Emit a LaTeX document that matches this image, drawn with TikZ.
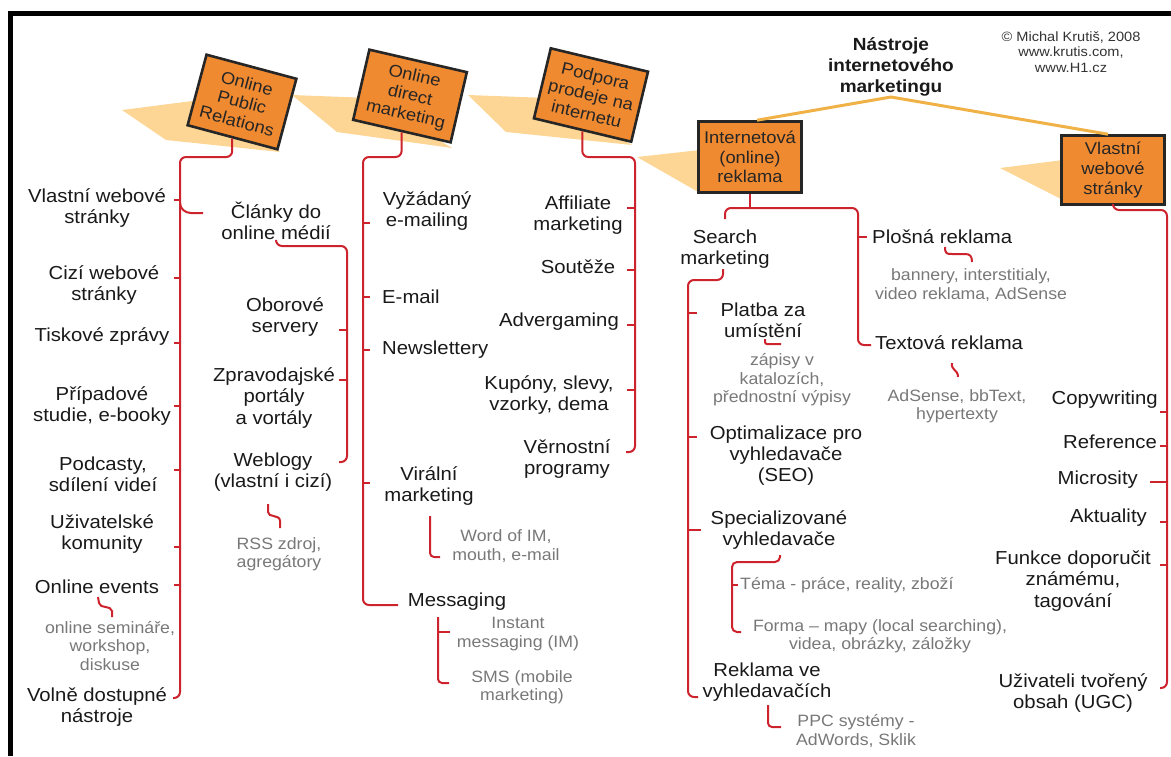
\documentclass[tikz,border=0pt]{standalone}
\usepackage{fontspec}
\setmainfont{Liberation Sans}[FakeStretch=1.08]
\usetikzlibrary{calc}
\definecolor{boxor}{RGB}{240,138,48}
\definecolor{beamc}{RGB}{253,214,150}
\definecolor{goldl}{RGB}{240,178,70}
\definecolor{redl}{RGB}{205,35,45}
\definecolor{graytxt}{RGB}{120,120,120}
\definecolor{maintxt}{RGB}{25,25,25}
\begin{document}
\begin{tikzpicture}[x=1pt,y=-1pt,
  obox/.style={draw=black!85, line width=2.6, fill=boxor, align=center, inner sep=0,
    font=\fontsize{17}{19.6}\selectfont, text=black!85},
  lbl/.style={align=center, inner sep=0, font=\fontsize{18.8}{21.1}\selectfont, text=maintxt},
  sub/.style={align=center, inner sep=0, font=\fontsize{16.4}{18.4}\selectfont, text=graytxt},
  rl/.style={draw=redl, line width=2, rounded corners=6},
  sq/.style={draw=redl, line width=2},
  beam/.style={fill=beamc, draw=none},
  goldline/.style={draw=goldl, line width=3},
  ]
\useasboundingbox (0,0) rectangle (1171,756);
% frame
\draw[line width=4.5] (1171,13.5) -- (10.5,13.5) -- (10.5,756);

% beams
\fill[beam] (122,110) -- (200,100) -- (280,152) -- (166,140) -- cycle;
\fill[beam] (292,95) -- (370,98) -- (452,148) -- (337,132) -- cycle;
\fill[beam] (468,95) -- (548,98) -- (632,145) -- (506,132) -- cycle;
\fill[beam] (637,157) -- (700,150) -- (700,193) -- cycle;
\fill[beam] (1000,168) -- (1063,160) -- (1063,200) -- cycle;

% title and credits
\node[font=\bfseries\fontsize{17.6}{20.6}\selectfont, align=center, inner sep=0, text=maintxt] (title) at (891,67) {Nástroje\\internetového\\marketingu};
\coordinate (apex) at (891,97);
\node[font=\fontsize{13.5}{15.2}\selectfont, align=center, inner sep=0, text=black!80] (copy) at (1071,52) {© Michal Krutiš, 2008\\www.krutis.com,\\www.H1.cz};

% boxes
\node[obox, rotate=-15, minimum width=93, minimum height=73] (b1) at (242,102) {Online\\Public\\Relations};
\node[obox, rotate=-13, minimum width=100, minimum height=72] (b2) at (410,96) {Online\\direct\\marketing};
\node[obox, rotate=-13.5, minimum width=100, minimum height=72] (b3) at (591,95) {Podpora\\prodeje na\\internetu};
\node[obox, minimum width=103, minimum height=71] (b4) at (750,157) {Internetová\\(online)\\reklama};
\node[obox, minimum width=103, minimum height=69] (b5) at (1113,170) {Vlastní\\webové\\stránky};

\draw[goldline] ($(b4.north)+(7,0)$) -- (apex) -- ($(b5.north)+(-5,0)$);

% ---------- column 1 texts
\node[lbl] (c1a) at (97,208) {Vlastní webové\\stránky};
\node[lbl] (c1b) at (104,285) {Cizí webové\\stránky};
\node[lbl] (c1c) at (102,337) {Tiskové zprávy};
\node[lbl] (c1d) at (102,406) {Případové\\studie, e-booky};
\node[lbl] (c1e) at (103,474) {Podcasty,\\sdílení videí};
\node[lbl] (c1f) at (102,534) {Uživatelské\\komunity};
\node[lbl] (c1g) at (97,587) {Online events};
\node[sub] (c1g1) at (110,646) {online semináře,\\workshop,\\diskuse};
\node[lbl] (c1h) at (97,707) {Volně dostupné\\nástroje};
\node[lbl] (c1i) at (276,221) {Články do\\online médií};
\node[lbl] (c1j) at (285,317) {Oborové\\servery};
\node[lbl] (c1k) at (274,398) {Zpravodajské\\portály\\a vortály};
\node[lbl] (c1l) at (273,472) {Weblogy\\(vlastní i cizí)};
\node[sub] (c1l1) at (279,554) {RSS zdroj,\\agregátory};

% ---------- column 2 texts
\node[lbl] (c2a) at (427,211) {Vyžádaný\\e-mailing};
\node[lbl, anchor=west] (c2b) at (382,297) {E-mail};
\node[lbl, anchor=west] (c2c) at (382,350) {Newslettery};
\node[lbl] (c2d) at (429,486) {Virální\\marketing};
\node[sub] (c2d1) at (506,546) {Word of IM,\\mouth, e-mail};
\node[lbl] (c2e) at (457,602) {Messaging};
\node[sub] (c2e1) at (518,634) {Instant\\messaging (IM)};
\node[sub] (c2e2) at (522,687) {SMS (mobile\\marketing)};

% ---------- column 3 texts
\node[lbl] (c3a) at (578,215) {Affiliate\\marketing};
\node[lbl] (c3b) at (578,267) {Soutěže};
\node[lbl] (c3c) at (559,322) {Advergaming};
\node[lbl] (c3d) at (549,395) {Kupóny, slevy,\\vzorky, dema};
\node[lbl] (c3e) at (567,459) {Věrnostní\\programy};

% ---------- column 4 texts
\node[lbl] (c4a) at (725,249) {Search\\marketing};
\node[lbl, anchor=west] (c4b) at (872,237) {Plošná reklama};
\node[sub] (c4b1) at (971,285) {bannery, interstitialy,\\video reklama, AdSense};
\node[lbl, anchor=west] (c4c) at (875,343) {Textová reklama};
\node[sub] (c4c1) at (957,406) {AdSense, bbText,\\hypertexty};
\node[lbl] (c4d) at (763,320) {Platba za\\umístění};
\node[sub] (c4d1) at (782,380) {zápisy v\\katalozích,\\přednostní výpisy};
\node[lbl] (c4e) at (786,456) {Optimalizace pro\\vyhledavače\\(SEO)};
\node[lbl] (c4f) at (779,530) {Specializované\\vyhledavače};
\node[sub, anchor=west] (c4f1) at (740,585) {Téma - práce, reality, zboží};
\node[sub] (c4f2) at (880,636) {Forma – mapy (local searching),\\videa, obrázky, záložky};
\node[lbl] (c4g) at (767,682) {Reklama ve\\vyhledavačích};
\node[sub] (c4g1) at (856,731) {PPC systémy -\\AdWords, Sklik};

% ---------- column 5 texts
\node[lbl, anchor=east] (c5a) at (1158,400) {Copywriting};
\node[lbl, anchor=east] (c5b) at (1157,442) {Reference};
\node[lbl, anchor=east] (c5c) at (1138,480) {Microsity};
\node[lbl, anchor=east] (c5d) at (1147,518) {Aktuality};
\node[lbl] (c5e) at (1073,581) {Funkce doporučit\\známému,\\tagování};
\node[lbl] (c5f) at (1073,693) {Uživateli tvořený\\obsah (UGC)};

% ---------- red connectors
% column 1
\coordinate (t1) at (180,157);
\draw[rl] (b1.south) -- (b1.south |- t1) -- (t1) -- (180,698) -- (173,698);
\foreach \y in {200,278,343,406,470,547,585} \draw[sq] (t1 |- 0,\y) -- ++(-6,0);
\draw[sq] (180,203) to[out=-90,in=180] (191,213) -- (203,213);
\coordinate (t1b) at (347,246);
\draw[rl] (c1i.south) -- (c1i.south |- t1b) -- (t1b) -- (347,462) -- (339,462);
\foreach \y in {330,380} \draw[sq] (t1b |- 0,\y) -- ++(-8,0);
\draw[sq] (268,504) -- (268,512) .. controls (268,518) and (280,514) .. (280,521) -- (280,528);
\draw[sq] (98,597) -- (99,603) .. controls (100,609) and (111,605) .. (112,611) -- (112,617);

% column 2
\coordinate (t2) at (363,157);
\draw[rl] (b2.south) -- (b2.south |- t2) -- (t2) -- (363,605) -- (398,605);
\foreach \y in {223,297,350,483} \draw[sq] (t2 |- 0,\y) -- ++(7,0);
\draw[rl, rounded corners=4] (430,516) -- (430,557) -- (440,557);
\draw[rl, rounded corners=4] (438,617) -- (438,683) -- (449,683);
\draw[sq] (438,632) -- (450,632);

% column 3
\coordinate (t3) at (635,157);
\draw[rl] (b3.south) -- (b3.south |- t3) -- (t3) -- (635,452) -- (626,452);
\foreach \y in {208,270,325,390} \draw[sq] (t3 |- 0,\y) -- ++(-8,0);

% column 4
\coordinate (t4) at (858,208);
\draw[rl] (725,219) -- (725,208) -- (t4) -- (858,345) -- (871,345);
\draw[sq] (b4.south) -- (b4.south |- t4);
\draw[sq] (t4 |- 0,237) -- ++(9,0);
\draw[sq] (945,247) .. controls (945,254) and (947,254) .. (952,254) -- (965,254) .. controls (970,254) and (972,256) .. (972,262);
\draw[sq] (952,363) .. controls (951,371) and (958,369) .. (958,377);
\coordinate (t4s) at (688,280);
\draw[rl] (723,269) -- (723,280) -- (t4s) -- (688,697) -- (698,697);
\foreach \y in {313,437} \draw[sq] (t4s |- 0,\y) -- ++(9,0);
\draw[sq] (t4s |- 0,530) -- ++(13,0);
\draw[rl, rounded corners=2] (765,339) -- (765,344) -- (781,344);
\coordinate (t4sp) at (732,562);
\draw[rl, rounded corners=5] (780,555) -- (780,562) -- (t4sp) -- (732,632) -- (741,632);
\draw[sq] (t4sp |- 0,585) -- ++(6,0);
\draw[rl, rounded corners=4] (768,705) -- (768,727) -- (781,727);

% column 5
\coordinate (t5) at (1167,210);
\draw[rl] (b5.south) -- (b5.south |- t5) -- (t5) -- (1167,688) -- (1160,688);
\foreach \y in {412,446,522,565} \draw[sq] (t5 |- 0,\y) -- ++(-7,0);
\draw[sq] (t5 |- 0,482) -- ++(-17,0);
\end{tikzpicture}
\end{document}
